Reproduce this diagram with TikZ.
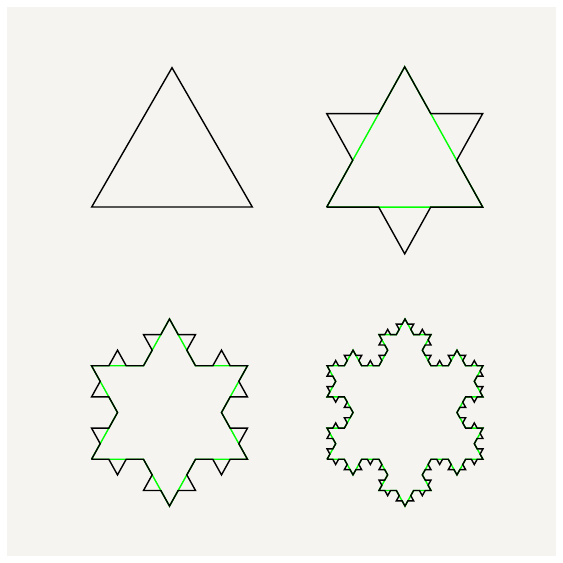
\documentclass[tikz,border=0pt]{standalone}
\usetikzlibrary{lindenmayersystems}
\pgfdeclarelindenmayersystem{Koch}{\rule{F -> F-F++F-F}}
\definecolor{bgpanel}{HTML}{F5F4F0}
\definecolor{kgreen}{HTML}{00FF00}
\tikzset{
  kblack/.style={draw=black, line width=1.4pt, line join=miter},
  kgreenline/.style={draw=kgreen, line width=1.4pt},
}
\begin{document}
\begin{tikzpicture}[x=1pt,y=1pt]
\useasboundingbox (0,0) rectangle (563,563);
\fill[white] (0,0) rectangle (563,563);
\fill[bgpanel] (7,7) rectangle (556,556);
% level 0
\draw[kblack] (91.7,356) -- (252.3,356) -- (172,495.3) -- cycle;
% level 1
\begin{scope}[shift={(404.7,355.9)}, xscale=0.963]
\begin{scope}[shift={(-81,0)}]
\draw[kgreenline, l-system={Koch, axiom=F++F++F, order=0, step=162pt, angle=60}] (0,0) lindenmayer system;
\draw[kblack, l-system={Koch, axiom=F++F++F, order=1, step=54pt, angle=60}] (0,0) lindenmayer system;
\end{scope}
\end{scope}
% level 2
\begin{scope}[shift={(169.5,103.7)}, xscale=0.963]
\begin{scope}[shift={(-81,0)}]
\draw[kgreenline, l-system={Koch, axiom=F++F++F, order=1, step=54pt, angle=60}] (0,0) lindenmayer system;
\draw[kblack, l-system={Koch, axiom=F++F++F, order=2, step=18pt, angle=60}] (0,0) lindenmayer system;
\end{scope}
\end{scope}
% level 3
\begin{scope}[shift={(405,103.7)}, xscale=0.963]
\begin{scope}[shift={(-81,0)}]
\draw[kgreenline, l-system={Koch, axiom=F++F++F, order=2, step=18pt, angle=60}] (0,0) lindenmayer system;
\draw[kblack, l-system={Koch, axiom=F++F++F, order=3, step=6pt, angle=60}] (0,0) lindenmayer system;
\end{scope}
\end{scope}
\end{tikzpicture}
\end{document}
